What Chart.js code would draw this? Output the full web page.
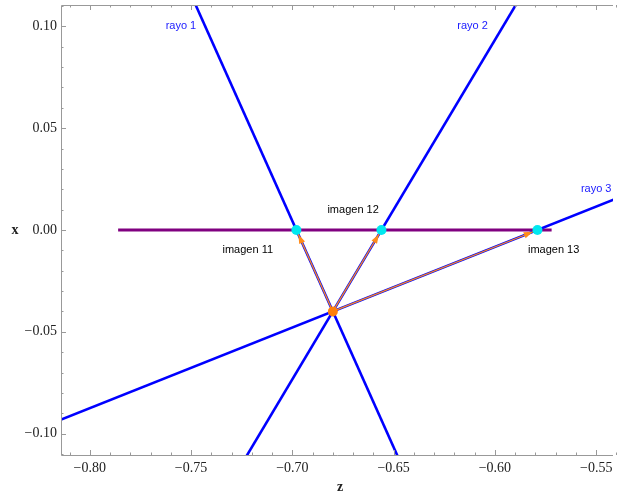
<!DOCTYPE html>
<html>
<head>
<meta charset="utf-8">
<script src="https://cdn.jsdelivr.net/npm/chart.js@4"></script>
<style>
  html, body { margin: 0; padding: 0; background: #fff; }
  #wrap { width: 618px; height: 500px; }
</style>
</head>
<body>
<div id="wrap"><canvas id="chart"></canvas></div>
<script>
// axis ranges and ticks (z horizontal, x vertical)
const zRange = [-0.8142, -0.5417];
const xRange = [-0.1105, 0.1105];
const zTicks = [-0.80, -0.75, -0.70, -0.65, -0.60, -0.55];
const xTicks = [-0.10, -0.05, 0.00, 0.05, 0.10];

// object point and its three images
const objectZ = -0.68;
const objectX = -0.04;
const imageZ = [-0.698, -0.656, -0.579];
const imageX = [0, 0, 0];
const imageLabels = ["imagen 11", "imagen 12", "imagen 13"];
const imageLabelZ = [-0.722, -0.670, -0.571];
const imageLabelX = [-0.010, 0.010, -0.010];

// rays (endpoints lie outside the visible frame)
const rayStartZ = [-0.752, -0.584, -0.830];
const rayStartX = [0.12, 0.12, -0.0994];
const rayEndZ = [-0.644, -0.728, -0.530];
const rayEndX = [-0.12, -0.12, 0.0194];
const rayLabels = ["rayo 1", "rayo 2", "rayo 3"];
const rayLabelZ = [-0.755, -0.611, -0.550];
const rayLabelX = [0.100, 0.100, 0.020];

// mirror / axis segment
const mirrorZ = [-0.786, -0.572];
const mirrorX = [0, 0];

const datasets = [];

datasets.push({
  data: mirrorZ.map((z, i) => ({ x: z, y: mirrorX[i] })),
  showLine: true, borderColor: "#800080", borderWidth: 3, pointRadius: 0, order: 5
});

rayStartZ.forEach((z, i) => {
  datasets.push({
    data: [{ x: z, y: rayStartX[i] }, { x: rayEndZ[i], y: rayEndX[i] }],
    showLine: true, borderColor: "#0000ff", borderWidth: 2.6, pointRadius: 0, order: 4
  });
});

// arrow shafts from object to each image
imageZ.forEach((z, i) => {
  datasets.push({
    data: [{ x: objectZ, y: objectX }, { x: z, y: imageX[i] }],
    showLine: true, borderColor: "#ff8c1a", borderWidth: 1.3, pointRadius: 0,
    order: 3, arrow: true
  });
});

datasets.push({
  data: imageZ.map((z, i) => ({ x: z, y: imageX[i] })),
  showLine: false, pointRadius: 5, pointBackgroundColor: "#00e8f0",
  pointBorderWidth: 0, order: 2
});

datasets.push({
  data: [{ x: objectZ, y: objectX }],
  showLine: false, pointRadius: 5, pointBackgroundColor: "#ff7f0e",
  pointBorderWidth: 0, order: 1
});

// frame, inward ticks, labels and arrowheads
const decorPlugin = {
  id: "decor",
  afterDatasetsDraw(chart) {
    const ctx = chart.ctx;
    const sx = chart.scales.x, sy = chart.scales.y;

    // arrowheads
    chart.data.datasets.forEach(ds => {
      if (!ds.arrow) return;
      const p0 = ds.data[0], p1 = ds.data[1];
      const x0 = sx.getPixelForValue(p0.x), y0 = sy.getPixelForValue(p0.y);
      const x1 = sx.getPixelForValue(p1.x), y1 = sy.getPixelForValue(p1.y);
      const ang = Math.atan2(y1 - y0, x1 - x0);
      const tipX = x1 - Math.cos(ang) * 5, tipY = y1 - Math.sin(ang) * 5;
      ctx.save();
      ctx.translate(tipX, tipY);
      ctx.rotate(ang);
      ctx.fillStyle = "#ff8c1a";
      ctx.beginPath();
      ctx.moveTo(0, 0);
      ctx.lineTo(-9, -3.2);
      ctx.lineTo(-9, 3.2);
      ctx.closePath();
      ctx.fill();
      ctx.restore();
    });
  },
  afterDraw(chart) {
    const ctx = chart.ctx;
    const sx = chart.scales.x, sy = chart.scales.y;
    const a = chart.chartArea;
    ctx.save();
    ctx.strokeStyle = "#999";
    ctx.lineWidth = 1;
    ctx.beginPath();
    ctx.moveTo(a.left + 0.5, a.bottom + 0.5);
    ctx.lineTo(a.left + 0.5, a.top + 0.5);
    ctx.lineTo(a.right, a.top + 0.5);
    ctx.moveTo(a.left + 0.5, a.bottom + 0.5);
    ctx.lineTo(a.right, a.bottom + 0.5);
    ctx.stroke();

    ctx.beginPath();
    for (let k = -81; k <= -54; k++) {
      const px = Math.round(sx.getPixelForValue(k / 100)) + 0.5;
      const len = (k % 5 === 0) ? 5 : 2.5;
      ctx.moveTo(px, a.bottom); ctx.lineTo(px, a.bottom - len);
      ctx.moveTo(px, a.top); ctx.lineTo(px, a.top + len);
    }
    for (let k = -11; k <= 11; k++) {
      const py = Math.round(sy.getPixelForValue(k / 100)) + 0.5;
      const len = (k % 5 === 0) ? 5 : 2.5;
      ctx.moveTo(a.left, py); ctx.lineTo(a.left + len, py);
    }
    ctx.stroke();

    // annotation labels
    ctx.font = "11px 'Liberation Sans', Arial, sans-serif";
    ctx.textAlign = "center";
    ctx.textBaseline = "middle";
    ctx.fillStyle = "#1a1aff";
    rayLabels.forEach((t, i) => {
      ctx.fillText(t, sx.getPixelForValue(rayLabelZ[i]), sy.getPixelForValue(rayLabelX[i]));
    });
    ctx.fillStyle = "#000";
    imageLabels.forEach((t, i) => {
      ctx.fillText(t, sx.getPixelForValue(imageLabelZ[i]), sy.getPixelForValue(imageLabelX[i]));
    });

    // axis titles
    ctx.font = "bold 14px 'Liberation Serif', 'Times New Roman', serif";
    ctx.fillStyle = "#222";
    ctx.fillText("z", (a.left + a.right) / 2 + 3, a.bottom + 32);
    ctx.fillText("x", 15, sy.getPixelForValue(0));
    ctx.restore();
  }
};

const fmt = v => (v < 0 ? "\u2212" : "") + Math.abs(v).toFixed(2);
const tickFont = { family: "'Liberation Serif', 'Times New Roman', serif", size: 14 };

new Chart(document.getElementById("chart"), {
  type: "scatter",
  data: { datasets: datasets },
  options: {
    responsive: true,
    maintainAspectRatio: false,
    animation: false,
    events: [],
    layout: { padding: { top: 3, right: 0, left: 0, bottom: 0 } },
    plugins: { legend: { display: false }, tooltip: { enabled: false } },
    scales: {
      x: {
        type: "linear", min: zRange[0], max: zRange[1],
        grid: { display: false, drawTicks: false },
        border: { display: false },
        afterBuildTicks: s => { s.ticks = zTicks.map(v => ({ value: v })); },
        afterFit: s => { s.height = 45; s.paddingLeft = 0; s.paddingRight = 0; },
        ticks: { callback: fmt, font: tickFont, color: "#222", padding: 5, maxRotation: 0 }
      },
      y: {
        type: "linear", min: xRange[0], max: xRange[1],
        grid: { display: false, drawTicks: false },
        border: { display: false },
        afterBuildTicks: s => { s.ticks = xTicks.map(v => ({ value: v })); },
        afterFit: s => { s.width = 61; s.paddingTop = 0; s.paddingBottom = 0; },
        ticks: { callback: fmt, font: tickFont, color: "#222", padding: 4 }
      }
    }
  },
  plugins: [decorPlugin]
});
</script>
</body>
</html>
